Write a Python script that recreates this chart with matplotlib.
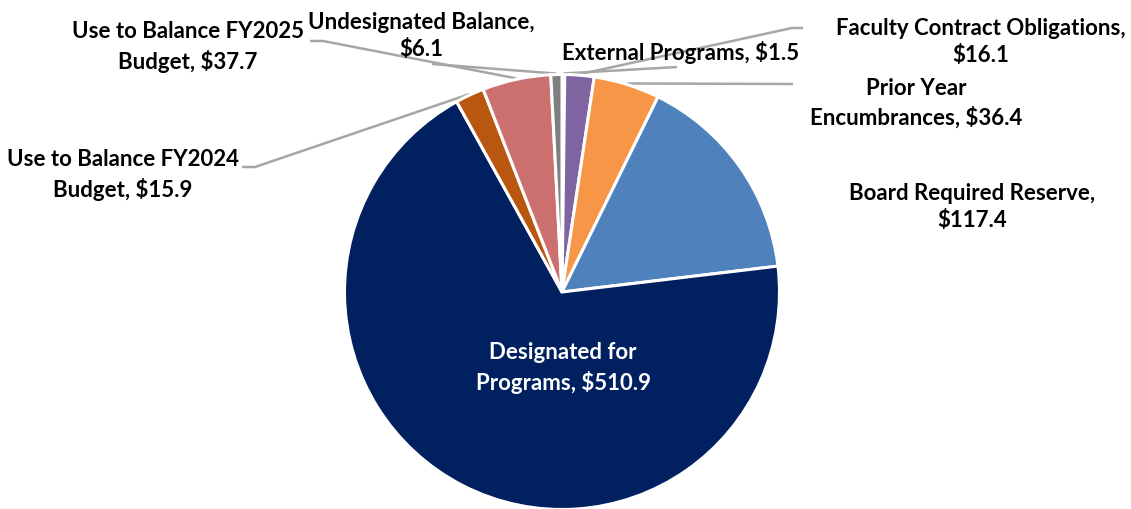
import numpy as np
import matplotlib.pyplot as plt

# data (clockwise from 12 o'clock)
names = ["External Programs", "Faculty Contract Obligations", "Prior Year\nEncumbrances",
         "Board Required Reserve", "Designated for\nPrograms", "Use to Balance FY2024\nBudget",
         "Use to Balance FY2025\nBudget", "Undesignated Balance"]
seps = [", ", ",\n", ", ", ",\n", ", ", ", ", ", ", ",\n"]
values = [1.5, 16.1, 36.4, 117.4, 510.9, 15.9, 37.7, 6.1]
colors = ["#4BACC6", "#8064A2", "#F79646", "#4F81BD", "#002060", "#B9560F", "#CC6F6F", "#7F7F7F"]

W, H = 1131, 510
fig = plt.figure(figsize=(W / 100, H / 100), dpi=100)
ax = fig.add_axes([0, 0, 1, 1])

def Y(py):
    return H - py

cx, cy, R = 562, Y(293), 217.5
wedges, _ = ax.pie(values, colors=colors, startangle=90, counterclock=False,
                   center=(cx, cy), radius=R, frame=True,
                   wedgeprops=dict(edgecolor="white", linewidth=2.2))
ax.set_xlim(0, W)
ax.set_ylim(0, H)
ax.set_aspect("equal")
ax.axis("off")

# label placement (pixel coords of text centre) and leader-line anchor points
label_pos = [(681, 52), (981, 42), (916, 103), (972, 207), (563, 368),
             (123, 175), (188, 47), (421, 36)]
leader_pts = [[(677, 68)], [(803, 29), (792, 29)], [(793, 85)], None, None,
              [(242, 168), (255, 168)], [(310, 42), (323, 42)], [(432, 65)]]

for i, (w, v) in enumerate(zip(wedges, values)):
    txt = names[i] + seps[i] + "\\$" + f"{v:.1f}"
    col = "white" if i == 4 else "black"
    x, y = label_pos[i]
    ax.text(x, Y(y), txt, ha="center", va="center", fontsize=16, fontweight="bold",
            family="Lato", color=col, linespacing=1.4)
    if leader_pts[i] is not None:
        mid = np.deg2rad((w.theta1 + w.theta2) / 2)
        ex, ey = cx + (R + 1) * np.cos(mid), cy + (R + 1) * np.sin(mid)
        xs = [p[0] for p in leader_pts[i]] + [ex]
        ys = [Y(p[1]) for p in leader_pts[i]] + [ey]
        ax.plot(xs, ys, color="#A6A6A6", linewidth=1.8, solid_capstyle="butt", zorder=0)

fig.savefig("out.png", dpi=100)
